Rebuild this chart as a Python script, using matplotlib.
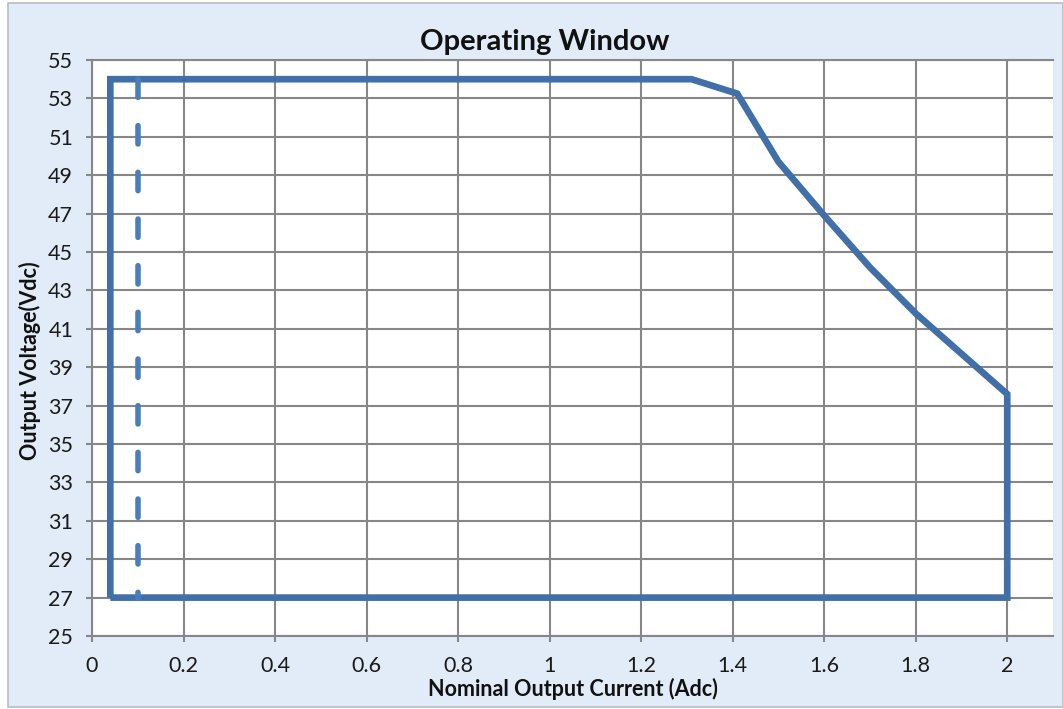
import matplotlib
matplotlib.use("Agg")
import matplotlib.pyplot as plt
from matplotlib.patches import Rectangle

# Data
window_x = [0.04, 0.04, 1.31, 1.41, 1.5, 1.6, 1.7, 1.8, 1.9, 2.0, 2.0, 0.04]
window_y = [27, 54, 54, 53.25, 49.7, 46.9, 44.2, 41.8, 39.7, 37.6, 27, 27]
dashed_x = [0.1, 0.1]
dashed_y = [54, 27]
x_ticks = [0, 0.2, 0.4, 0.6, 0.8, 1, 1.2, 1.4, 1.6, 1.8, 2]
x_tick_labels = ["0", "0.2", "0.4", "0.6", "0.8", "1", "1.2", "1.4", "1.6", "1.8", "2"]
y_ticks = list(range(25, 56, 2))

plt.rcParams['font.family'] = ['Lato', 'DejaVu Sans']

W, H = 1063, 709
fig = plt.figure(figsize=(W / 100, H / 100), dpi=100, facecolor='white')
bg = Rectangle((8 / W, 2 / H), (W - 8) / W, (H - 5) / H, transform=fig.transFigure,
               facecolor='#e2ecf8', edgecolor='#b8bcc2', linewidth=1.2, zorder=-10)
fig.patches.append(bg)

ax = fig.add_axes([92 / W, 1 - 636 / H, (1053 - 92) / W, (636 - 60) / H])
ax.set_facecolor('white')

grid_c = '#878787'
ax.set_xlim(0, 2.1)
ax.set_ylim(25, 55)
ax.set_xticks(x_ticks)
ax.set_xticklabels(x_tick_labels)
ax.set_yticks(y_ticks)
ax.grid(True, color=grid_c, linewidth=1.5)
ax.set_axisbelow(True)
ax.spines['right'].set_visible(False)
for s in ['left', 'bottom', 'top']:
    ax.spines[s].set_color(grid_c)
    ax.spines[s].set_linewidth(1.5)
ax.tick_params(axis='both', colors=grid_c, length=4.5, width=1.5, labelcolor='#1a1a1a',
               labelsize=15.5)
ax.tick_params(axis='y', pad=9)
ax.tick_params(axis='x', pad=10)

ax.plot(window_x, window_y, color='#416fa7', linewidth=4.8, solid_joinstyle='miter',
        solid_capstyle='butt', zorder=3)
ax.plot(dashed_x, dashed_y, color='#4a7ebb', linewidth=4.0, dashes=(3.3, 5.1),
        dash_capstyle='round', zorder=3)

fig.text(545 / W, 1 - 42 / H, 'Operating Window', fontsize=21, fontweight='bold',
         color='#111111', ha='center', va='center')
ax.set_xlabel('Nominal Output Current (Adc)', fontsize=15.5, fontweight='bold',
              color='#111111', labelpad=1)
ax.set_ylabel('Output Voltage(Vdc)', fontsize=15.5, fontweight='bold', color='#111111',
              labelpad=5)
ax.yaxis.label.set_y((636 - 361) / 576)

fig.savefig('out.png', dpi=100, facecolor='white')
